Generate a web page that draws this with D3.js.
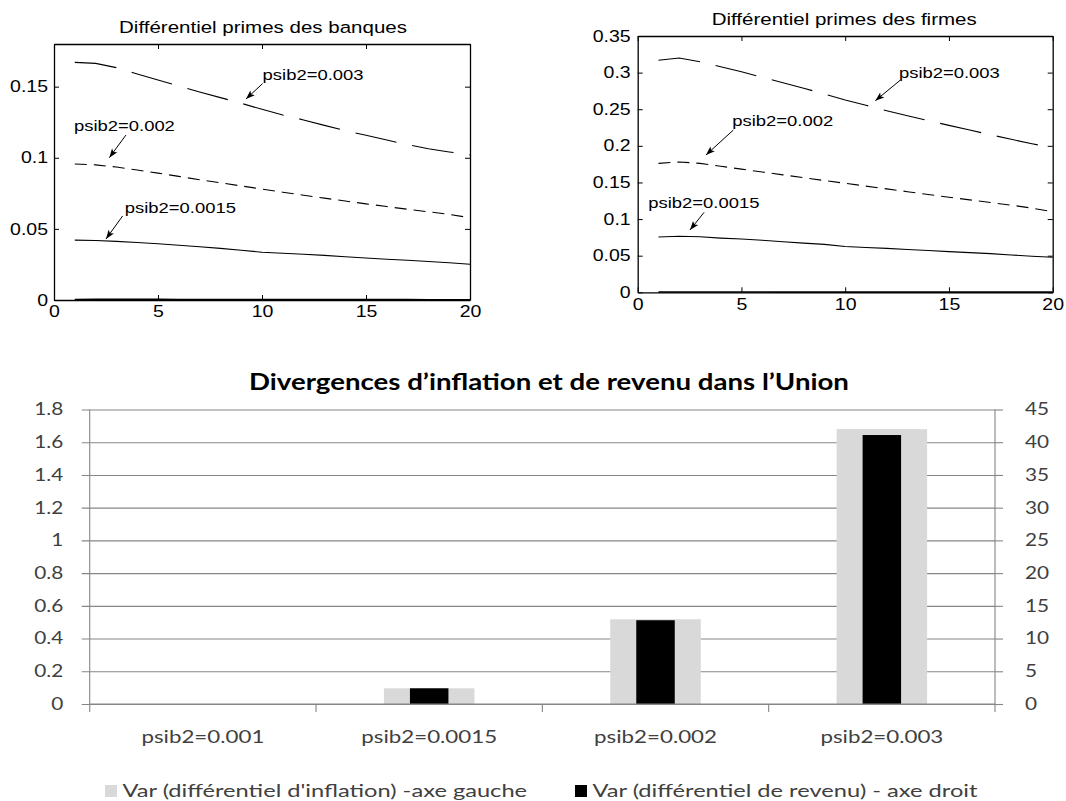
<!DOCTYPE html>
<html><head><meta charset="utf-8">
<script src="https://cdn.jsdelivr.net/npm/d3@7"></script>
<style>body{margin:0;background:#fff} svg{display:block}</style>
</head><body>
<svg id="c" width="1066" height="801"></svg>
<script>
// ---------- DATA ----------
const periods = [1,2,3,4,5,6,7,8,9,10,11,12,13,14,15,16,17,18,19,20];
const xTicks = [0,5,10,15,20];

const banks0003  = [0.1671,0.1664,0.1634,0.1589,0.1547,0.1505,0.1463,0.1423,0.1383,0.1341,0.1301,0.1266,0.1228,0.1191,0.1158,0.1125,0.1092,0.1064,0.1041,0.1020];
const banks0002  = [0.0956,0.0950,0.0935,0.0914,0.0892,0.0869,0.0846,0.0824,0.0802,0.0780,0.0758,0.0737,0.0716,0.0696,0.0676,0.0657,0.0638,0.0620,0.0602,0.0578];
const banks00015 = [0.0421,0.0418,0.0412,0.0404,0.0395,0.0385,0.0374,0.0363,0.0350,0.0336,0.0329,0.0322,0.0314,0.0304,0.0295,0.0287,0.0280,0.0271,0.0262,0.0251];
const banks0001  = [0.0004,0.0005,0.0005,0.0005,0.0005,0.0004,0.0004,0.0004,0.0004,0.0004,0.0003,0.0003,0.0003,0.0003,0.0003,0.0003,0.0003,0.0002,0.0002,0.0002];
const banksYTicks = [0,0.05,0.1,0.15];
const banksYLabels = ["0","0.05","0.1","0.15"];

const firms0003  = [0.3168,0.3200,0.3149,0.3081,0.3012,0.2936,0.2862,0.2786,0.2708,0.2626,0.2554,0.2480,0.2412,0.2343,0.2280,0.2216,0.2152,0.2089,0.2029,0.1975];
const firms0002  = [0.1760,0.1780,0.1760,0.1722,0.1682,0.1643,0.1604,0.1565,0.1526,0.1488,0.1450,0.1412,0.1374,0.1336,0.1298,0.1262,0.1226,0.1190,0.1150,0.1100];
const firms00015 = [0.0755,0.0765,0.0758,0.0740,0.0728,0.0710,0.0690,0.0672,0.0655,0.0625,0.0612,0.0600,0.0585,0.0570,0.0555,0.0542,0.0528,0.0510,0.0493,0.0478];
const firms0001  = [0.0004,0.0004,0.0004,0.0004,0.0004,0.0004,0.0003,0.0003,0.0003,0.0003,0.0003,0.0003,0.0003,0.0003,0.0003,0.0002,0.0002,0.0002,0.0002,0.0002];
const firmsYTicks = [0,0.05,0.1,0.15,0.2,0.25,0.3,0.35];
const firmsYLabels = ["0","0.05","0.1","0.15","0.2","0.25","0.3","0.35"];

const seriesNames = ["psib2=0.003","psib2=0.002","psib2=0.0015"];

const categories = ["psib2=0.001","psib2=0.0015","psib2=0.002","psib2=0.003"];
const inflationVar = [0, 0.096, 0.518, 1.680];   // left axis
const revenueVar   = [0, 2.4, 12.8, 41.1];        // right axis
const leftTicks  = [0,0.2,0.4,0.6,0.8,1,1.2,1.4,1.6,1.8];
const leftLabels = ["0","0.2","0.4","0.6","0.8","1","1.2","1.4","1.6","1.8"];
const rightTicks = [0,5,10,15,20,25,30,35,40,45];
const rightLabels= ["0","5","10","15","20","25","30","35","40","45"];
const legendLabels = ["Var (diff\u00e9rentiel d'inflation) -axe gauche","Var (diff\u00e9rentiel de revenu) - axe droit"];
const mainTitle = "Divergences d\u2019inflation et de revenu dans l\u2019Union";

// ---------- HELPERS ----------
const svg = d3.select('#c');
const TOPFONT = "'Liberation Sans', Arial, sans-serif";
const BOTFONT = "Lato, 'Open Sans', sans-serif";
function measure(str, family, size, weight) {
  const t = svg.append('text').attr('font-family', family).attr('font-size', size)
    .attr('font-weight', weight || 'normal').text(str);
  const w = t.node().getComputedTextLength(); t.remove(); return w;
}
function stretch(sel, sx) {
  sel.each(function(){
    const t = d3.select(this);
    const x = +(t.attr('x') || 0);
    t.attr('x', x / sx).attr('transform', `scale(${sx},1)`);
  });
}
const defs = svg.append('defs');
defs.append('marker').attr('id','arr').attr('viewBox','-10 -5 12 10')
  .attr('refX',0).attr('refY',0).attr('markerWidth',12).attr('markerHeight',10)
  .attr('markerUnits','userSpaceOnUse').attr('orient','auto')
  .append('path').attr('d','M0,0 L-9,-3.3 L-7,0 L-9,3.3 Z').attr('fill','#000');

// stretch factors (the reference text is horizontally stretched)
const sxTopTick  = 38  / measure("0.15", TOPFONT, 16);
const sxTopTitle = 288 / measure("Diff\u00e9rentiel primes des banques", TOPFONT, 17);
const sxTopAnno  = 101 / measure("psib2=0.003", TOPFONT, 14);

// ---------- TOP LINE CHARTS ----------
function lineChart(cfg) {
  const x = d3.scaleLinear().domain([0,20]).range([cfg.left, cfg.right]);
  const y = d3.scaleLinear().domain([0,cfg.yMax]).range([cfg.bottom, cfg.top]);
  const g = svg.append('g');
  const line = d3.line().x((d,i)=>x(periods[i])).y(d=>y(d));
  cfg.series.forEach((s,k) => {
    g.append('path').attr('d', line(s)).attr('fill','none').attr('stroke','#000')
      .attr('stroke-width', k===3 ? 1.6 : 1.1)
      .attr('stroke-dasharray', cfg.dashes[k]);
  });
  const styleAxis = a => {
    a.selectAll('.domain').attr('stroke','#000').attr('stroke-width',1.3);
    a.selectAll('.tick line').attr('stroke','#000').attr('stroke-width',1);
    a.attr('font-family', TOPFONT).attr('font-size',16);
    a.selectAll('text').attr('fill','#000');
  };
  const ab = g.append('g').attr('transform',`translate(0,${cfg.bottom})`)
    .call(d3.axisBottom(x).tickValues(xTicks).tickFormat(d=>String(d)).tickSize(-5).tickSizeOuter(0).tickPadding(6));
  styleAxis(ab); stretch(ab.selectAll('text'), sxTopTick);
  const at = g.append('g').attr('transform',`translate(0,${cfg.top})`)
    .call(d3.axisTop(x).tickValues(xTicks).tickFormat('').tickSize(-5).tickSizeOuter(0));
  styleAxis(at);
  const al = g.append('g').attr('transform',`translate(${cfg.left},0)`)
    .call(d3.axisLeft(y).tickValues(cfg.yTicks).tickFormat((d,i)=>cfg.yLabels[i]).tickSize(-5).tickSizeOuter(0).tickPadding(cfg.yPad));
  styleAxis(al); stretch(al.selectAll('text'), sxTopTick);
  const ar = g.append('g').attr('transform',`translate(${cfg.right},0)`)
    .call(d3.axisRight(y).tickValues(cfg.yTicks).tickFormat('').tickSize(-5).tickSizeOuter(0));
  styleAxis(ar);
  // title
  const tt = g.append('text').attr('x', (cfg.left+cfg.right)/2 + cfg.titleDx).attr('y', cfg.titleY)
    .attr('text-anchor','middle').attr('font-family',TOPFONT).attr('font-size',17).text(cfg.title);
  stretch(tt, sxTopTitle);
  // annotations
  cfg.annos.forEach((a,k) => {
    const t = g.append('text').attr('x', x(a.tx)).attr('y', y(a.ty))
      .attr('font-family',TOPFONT).attr('font-size',14).text(seriesNames[k]);
    stretch(t, sxTopAnno);
    g.append('line').attr('x1', x(a.fx)).attr('y1', y(a.fy)).attr('x2', x(a.hx)).attr('y2', y(a.hy))
      .attr('stroke','#000').attr('stroke-width',1).attr('marker-end','url(#arr)');
  });
}

lineChart({
  left:54, right:470, top:44, bottom:300, yMax:0.18,
  yTicks:banksYTicks, yLabels:banksYLabels, yPad:6,
  series:[banks0003, banks0002, banks00015, banks0001],
  dashes:["42,16","12,7",null,null],
  title:"Diff\u00e9rentiel primes des banques", titleY:33, titleDx:1,
  annos:[
    {tx:10.03, ty:0.1547, fx:10.03, fy:0.1522, hx:9.23, hy:0.1413},
    {tx:0.96,  ty:0.1190, fx:3.46,  fy:0.1160, hx:2.66, hy:0.1001},
    {tx:3.40,  ty:0.0610, fx:3.30,  fy:0.0591, hx:2.50, hy:0.0429}
  ]
});
lineChart({
  left:637.7, right:1052.7, top:36, bottom:292.3, yMax:0.35,
  yTicks:firmsYTicks, yLabels:firmsYLabels, yPad:7,
  series:[firms0003, firms0002, firms00015, firms0001],
  dashes:["42,16","12,7",null,null],
  title:"Diff\u00e9rentiel primes des firmes", titleY:25, titleDx:-1,
  annos:[
    {tx:12.59, ty:0.2930, fx:12.67, fy:0.2900, hx:11.45, hy:0.2616},
    {tx:4.56,  ty:0.2275, fx:4.61,  fy:0.2216, hx:3.29,  hy:0.1875},
    {tx:0.51,  ty:0.1147, fx:3.20,  fy:0.1092, hx:2.52,  hy:0.0851}
  ]
});

// ---------- BOTTOM BAR CHART ----------
(function(){
  const L = 89.7, R = 995, T = 409.5, B = 704;
  const gridCol = '#868686', txtCol = '#404040';
  const x = d3.scaleBand().domain(categories).range([L,R]).paddingInner(0).paddingOuter(0);
  const yL = d3.scaleLinear().domain([0,1.8]).range([B,T]);
  const yR = d3.scaleLinear().domain([0,45]).range([B,T]);
  const g = svg.append('g');

  const sxTick  = 29  / measure("0.8", BOTFONT, 17);
  const sxCat   = 123 / measure("psib2=0.001", BOTFONT, 17);
  const sxLeg   = 405 / measure(legendLabels[0], BOTFONT, 17);
  const sxTitle = 600 / measure(mainTitle, BOTFONT, 22, 'bold');

  // gridlines (left axis) extending as ticks to the left
  const al = g.append('g').attr('transform',`translate(${L},0)`)
    .call(d3.axisLeft(yL).tickValues(leftTicks).tickFormat((d,i)=>leftLabels[i])
      .tickSize(8).tickSizeOuter(0).tickPadding(18));
  al.select('.domain').remove();
  al.selectAll('.tick line').attr('x2', R-L).attr('x1',-8).attr('stroke',gridCol).attr('stroke-width',1.1);
  al.attr('font-family',BOTFONT).attr('font-size',17);
  al.selectAll('text').attr('fill',txtCol).attr('x', -(L-63.3));
  stretch(al.selectAll('text'), sxTick);

  // right axis ticks + labels
  const ar = g.append('g').attr('transform',`translate(${R},0)`)
    .call(d3.axisRight(yR).tickValues(rightTicks).tickFormat((d,i)=>rightLabels[i])
      .tickSize(8).tickSizeOuter(0).tickPadding(22));
  ar.select('.domain').remove();
  ar.selectAll('.tick line').attr('stroke',gridCol).attr('stroke-width',1.1);
  ar.attr('font-family',BOTFONT).attr('font-size',17);
  ar.selectAll('text').attr('fill',txtCol);
  stretch(ar.selectAll('text'), sxTick);

  // bars
  const bw = x.bandwidth();
  g.selectAll('rect.inf').data(inflationVar).join('rect').attr('class','inf')
    .attr('x',(d,i)=>x(categories[i]) + bw/2 - bw*0.2).attr('width', bw*0.4)
    .attr('y', d=>yL(d)).attr('height', d=>B - yL(d)).attr('fill','#d9d9d9');
  g.selectAll('rect.rev').data(revenueVar).join('rect').attr('class','rev')
    .attr('x',(d,i)=>x(categories[i]) + bw/2 - bw*0.085).attr('width', bw*0.17)
    .attr('y', d=>yR(d)).attr('height', d=>B - yR(d)).attr('fill','#000');

  // axis lines
  g.append('line').attr('x1',L).attr('x2',L).attr('y1',T).attr('y2',B+8).attr('stroke',gridCol).attr('stroke-width',1.1);
  g.append('line').attr('x1',R).attr('x2',R).attr('y1',T).attr('y2',B+8).attr('stroke',gridCol).attr('stroke-width',1.1);
  g.append('line').attr('x1',L).attr('x2',R).attr('y1',B).attr('y2',B).attr('stroke',gridCol).attr('stroke-width',1.1);

  // category axis
  const ab = g.append('g').attr('transform',`translate(0,${B})`)
    .call(d3.axisBottom(x).tickSize(0).tickPadding(0));
  ab.select('.domain').remove();
  ab.selectAll('.tick line').remove();
  ab.attr('font-family',BOTFONT).attr('font-size',17);
  ab.selectAll('text').attr('fill',txtCol).attr('dy',null).attr('y', 743.3 - B);
  stretch(ab.selectAll('text'), sxCat);
  g.selectAll('line.ctick').data(categories.slice(1)).join('line').attr('class','ctick')
    .attr('x1',d=>x(d)).attr('x2',d=>x(d)).attr('y1',B).attr('y2',B+8)
    .attr('stroke',gridCol).attr('stroke-width',1.1);

  // title
  const tt = g.append('text').attr('x',549).attr('y',390).attr('text-anchor','middle')
    .attr('font-family',BOTFONT).attr('font-size',22).attr('font-weight','bold').attr('fill','#000')
    .text(mainTitle);
  stretch(tt, sxTitle);

  // legend
  const legX = [105, 575], legCol = ['#d9d9d9','#000'];
  legendLabels.forEach((lab,i) => {
    g.append('rect').attr('x',legX[i]).attr('y',785).attr('width',12).attr('height',12).attr('fill',legCol[i]);
    const t = g.append('text').attr('x',legX[i]+17.5).attr('y',797).attr('font-family',BOTFONT)
      .attr('font-size',17).attr('fill',txtCol).text(lab);
    stretch(t, sxLeg);
  });
})();
</script>
</body></html>
